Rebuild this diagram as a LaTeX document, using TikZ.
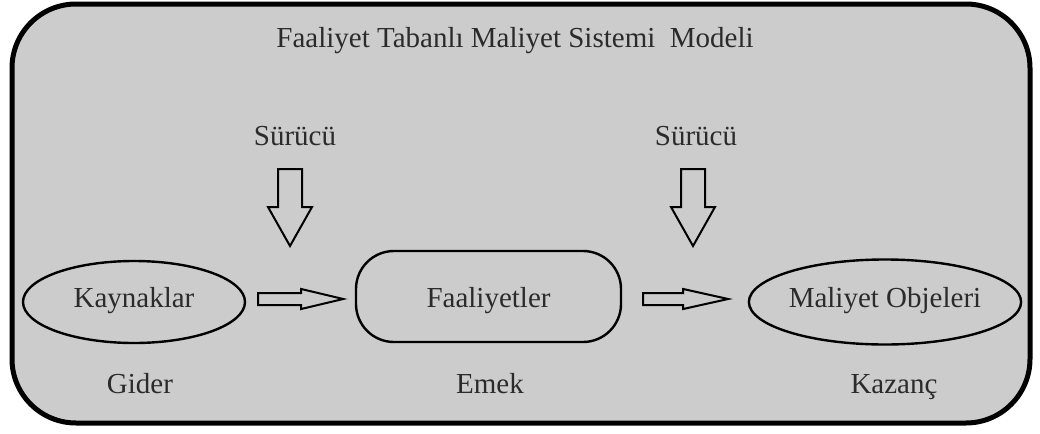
\documentclass[tikz,border=0pt]{standalone}
\usepackage{fontspec}
\setmainfont{Liberation Serif}
\usetikzlibrary{calc,shapes.geometric}

\definecolor{panelgray}{HTML}{CCCCCC}
\definecolor{inkgray}{HTML}{2B2B2B}

\tikzset{
  txt/.style={font=\fontsize{14.5}{17}\selectfont, text=inkgray, inner sep=0pt},
  oval/.style={ellipse, draw, line width=1.2pt, txt, text height=8pt, text depth=3pt},
  roundbox/.style={rectangle, rounded corners=19pt, draw, line width=1.2pt, txt, text height=13.5pt, text depth=3pt},
  blockarrow/.style={draw, line width=1pt, line join=miter, fill=panelgray}
}

\begin{document}
\begin{tikzpicture}[x=0.5pt,y=-0.5pt]
		\useasboundingbox (0,0) rectangle (1040,434);
		\fill[white] (0,0) rectangle (1040,434);
		% outer panel
		\draw[line width=2.5pt, rounded corners=32pt, fill=panelgray] (12,4) rectangle (1030,423);
		\node[txt, anchor=base] (title) at (515,47) {Faaliyet Tabanlı Maliyet Sistemi\ \ Modeli};

		\node[oval, minimum width=111pt, minimum height=41pt] (kay) at (134,302) {Kaynaklar};
		\node[roundbox, minimum width=132.5pt, minimum height=45.5pt] (faal) at (488.5,296.5) {Faaliyetler};
		\node[oval, minimum width=128pt, minimum height=42.5pt] (obj) at (885,302) {Maliyet Objeleri};

		\node[txt, anchor=base] (sur1) at (295,145) {Sürücü};
		\node[txt, anchor=base] (sur2) at (696,145) {Sürücü};

		\node[txt, anchor=base] (gider) at (140,393) {Gider};
		\node[txt, anchor=base] (emek) at (490,393) {Emek};
		\node[txt, anchor=base] (kazanc) at (894,393) {Kazanç};

		% block arrows
		\coordinate (d1) at ($(sur1.base)+(-5,24)$);
		\coordinate (d2) at ($(sur2.base)+(-3,24)$);
		\coordinate (r1) at ($(kay.east)+(12,-3)$);
		\coordinate (r2) at ($(faal.east)+(21,2.5)$);

		\draw[blockarrow] (d1) ++(-12,0) -- ++(24,0) -- ++(0,38) -- ++(10,0) -- ++(-22,39) -- ++(-22,-39) -- ++(10,0) -- cycle;
		\draw[blockarrow] (d2) ++(-12,0) -- ++(24,0) -- ++(0,38) -- ++(10,0) -- ++(-22,39) -- ++(-22,-39) -- ++(10,0) -- cycle;
		\draw[blockarrow] (r1) ++(0,-6) -- ++(43,0) -- ++(0,-4) -- ++(42,10) -- ++(-42,10) -- ++(0,-4) -- ++(-43,0) -- cycle;
		\draw[blockarrow] (r2) ++(0,-6) -- ++(40,0) -- ++(0,-4) -- ++(45,10) -- ++(-45,10) -- ++(0,-4) -- ++(-40,0) -- cycle;
	\end{tikzpicture}
\end{document}
